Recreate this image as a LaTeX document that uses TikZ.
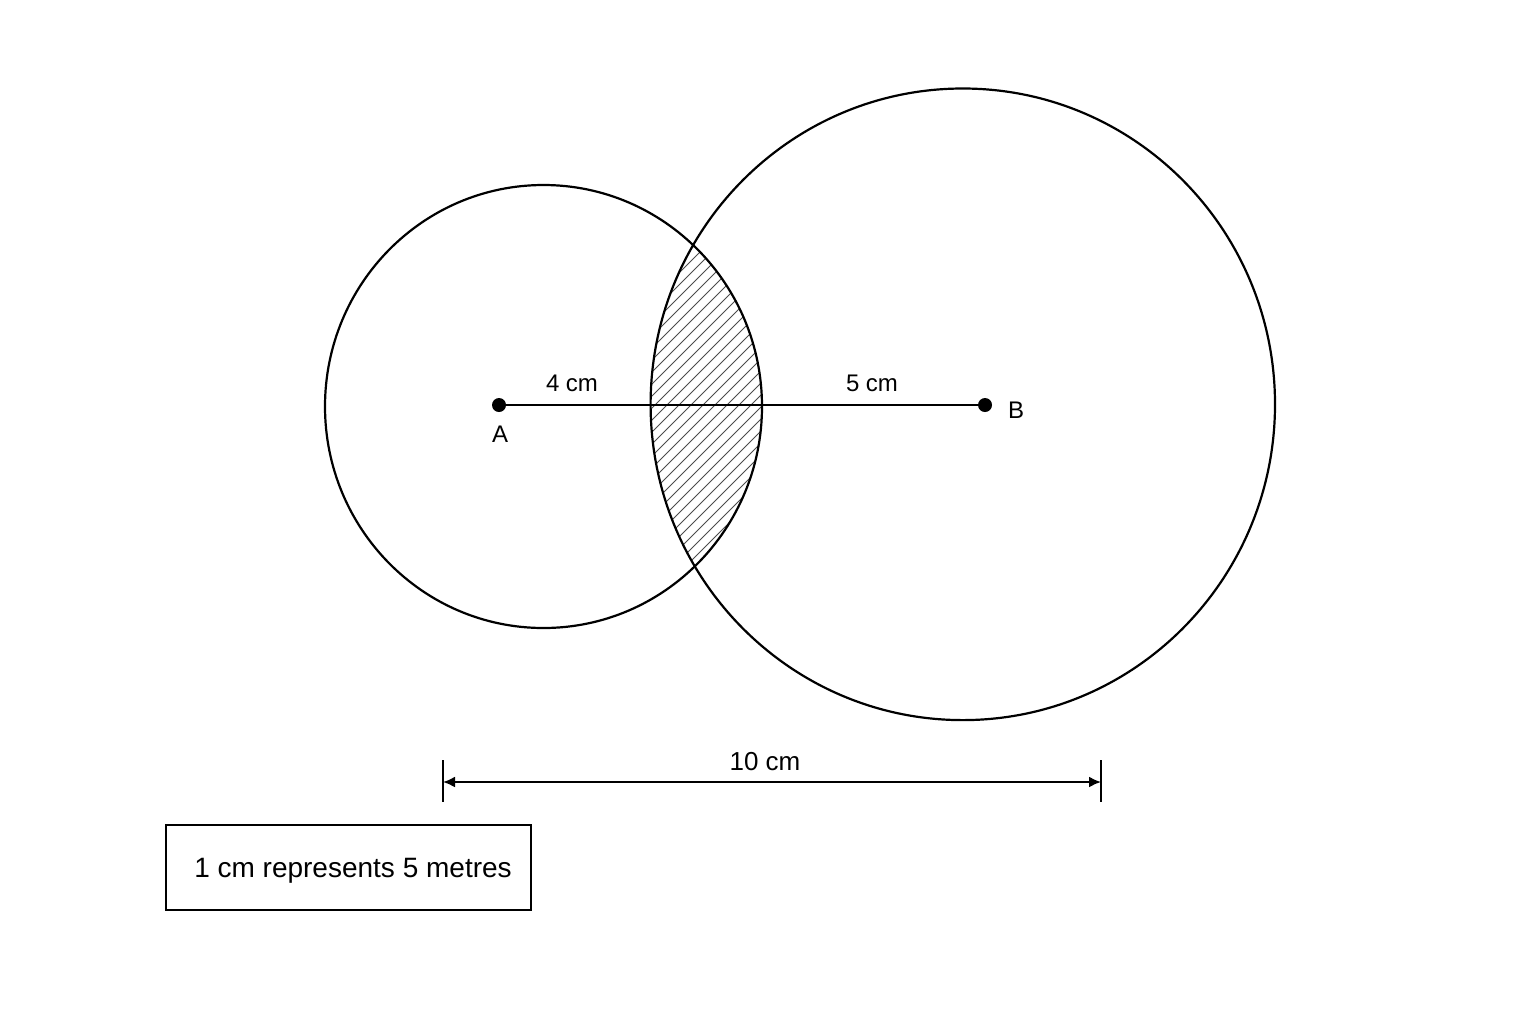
\documentclass[tikz,border=0pt]{standalone}
\usepackage{fontspec}
\setmainfont{Liberation Sans}
\usetikzlibrary{arrows.meta}
\tikzset{
  circ/.style={draw=black, line width=1.1pt},
  dotpt/.style={circle, fill=black, inner sep=0pt, minimum size=7pt},
  lbl/.style={font=\fontsize{12}{14}\selectfont, inner sep=0pt},
  hatchline/.style={draw=black!70, line width=0.45pt},
  dimline/.style={line width=1pt, {Latex[length=6pt,width=5.5pt]}-{Latex[length=6pt,width=5.5pt]}},
  tickline/.style={line width=1pt},
  scalebox/.style={draw=black, line width=0.9pt, minimum width=182.5pt, minimum height=42.5pt, inner sep=0pt, font=\fontsize{14}{16}\selectfont}
}
\begin{document}
\begin{tikzpicture}[x=0.5pt, y=-0.5pt]
\useasboundingbox[fill=white] (0,0) rectangle (1536,1024);
% centres of the circles
\coordinate (cA) at (543.5,406.5);
\coordinate (cB) at (962.8,404.3);
% hatched intersection
\begin{scope}
  \clip (cA) ellipse [x radius=218.5, y radius=221.5];
  \clip (cB) ellipse [x radius=312.2, y radius=315.8];
  \foreach \c in {880,892,...,1345} {
    \draw[hatchline] (\c-150,150) -- (\c-700,700);
  }
\end{scope}
% circles
\draw[circ] (cA) ellipse [x radius=218.5, y radius=221.5];
\draw[circ] (cB) ellipse [x radius=312.2, y radius=315.8];
% points A and B
\node[dotpt] (A) at (499,405) {};
\node[dotpt] (B) at (985,405) {};
\draw[line width=0.9pt] (A.center) -- (B.center);
\node[lbl] (labA) at (500,434) {A};
\node[lbl] (labB) at (1016,410) {B};
\node[lbl] (l4) at (572,383) {4 cm};
\node[lbl] (l5) at (872,383) {5 cm};
% dimension line
\coordinate (dL) at (443,782);
\coordinate (dR) at (1101,782);
\coordinate (dLt) at (443,760);
\coordinate (dLb) at (443,802);
\coordinate (dRt) at (1101,760);
\coordinate (dRb) at (1101,802);
\draw[tickline] (dLt) -- (dLb);
\draw[tickline] (dRt) -- (dRb);
\draw[dimline] (dL) -- (dR);
\node[lbl, font=\fontsize{13}{15}\selectfont] (l10) at (765,762) {10 cm};
% scale box
\node[scalebox] (scale) at (348.5,867.5) {};
\node[inner sep=0pt, font=\fontsize{14}{16}\selectfont] (scaletext) at (353,870.5) {1 cm represents 5 metres};
\end{tikzpicture}
\end{document}
